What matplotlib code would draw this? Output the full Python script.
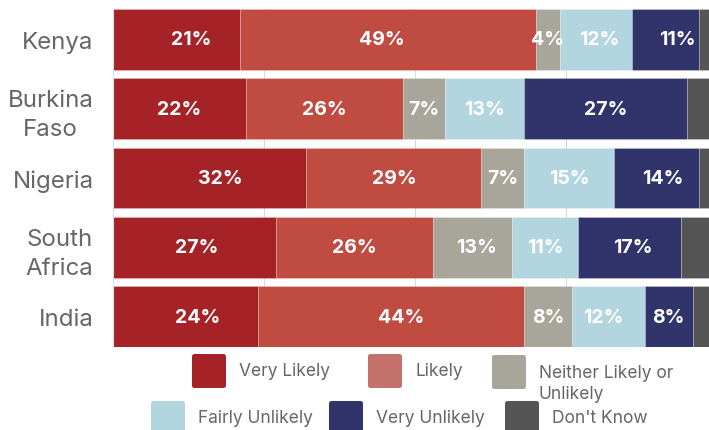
import matplotlib
matplotlib.use("Agg")
import matplotlib.pyplot as plt
from matplotlib.patches import FancyBboxPatch
import numpy as np

# ---------------- data ----------------
countries = ["Kenya", "Burkina\nFaso", "Nigeria", "South\nAfrica", "India"]
categories = ["Very Likely", "Likely", "Neither Likely or\nUnlikely",
              "Fairly Unlikely", "Very Unlikely", "Don't Know"]
very_likely = [21, 22, 32, 27, 24]
likely = [49, 26, 29, 26, 44]
neither = [4, 7, 7, 13, 8]
fairly_unlikely = [12, 13, 15, 11, 12]
very_unlikely = [11, 27, 14, 17, 8]
dont_know = [3, 5, 3, 6, 4]

series = [very_likely, likely, neither, fairly_unlikely, very_unlikely, dont_know]
show_labels = [True, True, True, True, True, False]

# ---------------- style ----------------
bar_colors = ["#a52327", "#c04b41", "#a8a59b", "#b3d5e0", "#30346b", "#555555"]
legend_colors = ["#a52327", "#c4716b", "#a8a59b", "#b3d5e0", "#30346b", "#555555"]
# small horizontal nudges of value labels (in percentage units), per country x series
label_dx = [
    [2.5, -1.0, 0.0, 0.5, 2.0],
    [0.0, 0.0, 0.0, 0.0, 0.0],
    [1.7, 0.0, 0.0, 0.0, 1.0],
    [0.3, 0.0, 0.7, 0.0, 0.5],
    [2.0, 1.7, 0.0, -0.8, 0.0],
]
FONT = ["Inter", "DejaVu Sans"]
plt.rcParams["font.family"] = FONT

W, H = 709, 431
fig = plt.figure(figsize=(W / 100, H / 100), dpi=100)
ax = fig.add_axes([113 / W, 83 / H, 604 / W, 338 / H])

bar_h = 0.88
y = np.arange(len(countries))
left = np.zeros(len(countries))
for s_idx, (vals, col) in enumerate(zip(series, bar_colors)):
    vals = np.array(vals, dtype=float)
    ax.barh(y, vals, left=left, height=bar_h, color=col,
            edgecolor=(1, 1, 1, 0.25), linewidth=0.6, zorder=2)
    if show_labels[s_idx]:
        for i, v in enumerate(vals):
            ax.text(left[i] + v / 2 + label_dx[i][s_idx], y[i], f"{int(v)}%",
                    ha="center", va="center", color="white",
                    fontsize=14, fontweight="bold", zorder=3)
    left += vals

ax.set_xlim(0, 100)
ax.set_ylim(len(countries) - 1 + bar_h / 2, -bar_h / 2)
ax.set_xticks([25, 50, 75])
ax.set_xticklabels([])
ax.xaxis.grid(True, color="#d8d8d8", linewidth=0.8, zorder=0)
ax.set_axisbelow(True)
ax.set_yticks(y)
ax.set_yticklabels(countries)
ax.tick_params(axis="both", length=0)
ax.tick_params(axis="y", pad=14, labelsize=17.3, labelcolor="#666666")
for lbl in ax.get_yticklabels():
    lbl.set_multialignment("center")
    lbl.set_linespacing(1.4)
for sp in ["top", "right", "bottom"]:
    ax.spines[sp].set_visible(False)
ax.spines["left"].set_color("#dddddd")
ax.spines["left"].set_linewidth(0.8)

# ---------------- legend (manual, wrapped rows) ----------------
legend_pos = [(192, 355), (368, 355), (492, 356), (151, 402), (329, 402), (505, 402)]
patch = 34
line_px = 22
for (px, py), lab, col in zip(legend_pos, categories, legend_colors):
    box = FancyBboxPatch((px / 100, (H - py - patch) / 100), patch / 100, patch / 100,
                         boxstyle="round,pad=0,rounding_size=0.025",
                         transform=fig.dpi_scale_trans, facecolor=col,
                         edgecolor="none", clip_on=False)
    fig.add_artist(box)
    nlines = lab.count("\n")
    base = py + 21 + line_px * nlines
    fig.text((px + 47) / 100, (H - base) / 100, lab, transform=fig.dpi_scale_trans,
             ha="left", va="baseline", fontsize=12.5, color="#666666", linespacing=1.3)

fig.savefig("out.png", dpi=100)
